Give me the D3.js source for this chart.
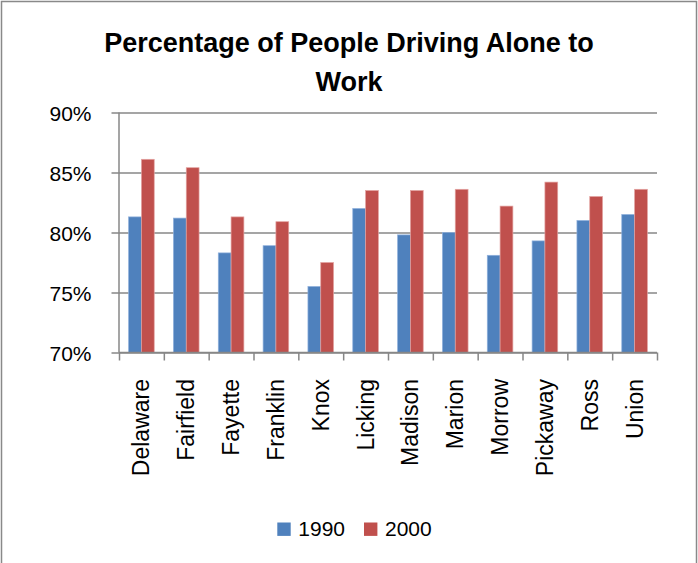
<!DOCTYPE html>
<html>
<head>
<meta charset="utf-8">
<script src="https://cdn.jsdelivr.net/npm/d3@7"></script>
<style>
  html, body { margin: 0; padding: 0; background: #fff; }
  svg { display: block; }
</style>
</head>
<body>
<script>
const titleLines = ["Percentage of People Driving Alone to", "Work"];
const categories = ["Delaware", "Fairfield", "Fayette", "Franklin", "Knox", "Licking", "Madison", "Marion", "Morrow", "Pickaway", "Ross", "Union"];
const seriesNames = ["1990", "2000"];
const values1990 = [81.3, 81.2, 78.3, 78.9, 75.5, 82.0, 79.8, 80.0, 78.1, 79.3, 81.0, 81.5];
const values2000 = [86.1, 85.4, 81.3, 80.9, 77.5, 83.5, 83.5, 83.6, 82.2, 84.2, 83.0, 83.6];
const yTicks = [70, 75, 80, 85, 90];
const colors = ["#4F81BD", "#C0504D"];
const strokes = ["#8fb0dc", "#e3a3a1"];

(function () {
const W = 698, H = 563;
const plotLeft = 119, plotRight = 657, plotTop = 112.5, plotBottom = 352.5;
const font = "'Liberation Sans', Arial, sans-serif";

const svg = d3.select("body").append("svg").attr("width", W).attr("height", H);

svg.append("rect").attr("x", 1.5).attr("y", 1.5).attr("width", 695).attr("height", 575)
  .attr("fill", "#fff").attr("stroke", "#898989").attr("stroke-width", 1.5);

// Title
const title = svg.append("text").attr("text-anchor", "middle")
  .attr("font-family", font).attr("font-weight", "bold").attr("font-size", 27).attr("fill", "#000");
titleLines.forEach((t, i) => {
  title.append("tspan").attr("x", 349).attr("y", 51.7 + i * 39.3).text(t);
});

const y = d3.scaleLinear().domain([70, 90]).range([plotBottom, plotTop]);
const x = d3.scaleBand().domain(categories).range([plotLeft, plotRight]).paddingInner(1.5 / 3.5).paddingOuter(0.75 / 3.5);
const xs = d3.scaleBand().domain(seriesNames).range([0, x.bandwidth()]);
const xb = d3.scaleLinear().domain([0, categories.length]).range([plotLeft, plotRight]);

// Gridlines
const grid = svg.append("g").attr("transform", `translate(${plotLeft},0)`)
  .call(d3.axisLeft(y).tickValues(yTicks).tickSize(-(plotRight - plotLeft)).tickFormat(""));
grid.select(".domain").remove();
grid.selectAll("line").attr("stroke", "#878787").attr("stroke-width", 1.5);

// Bars
const rows = categories.map((c, i) => ({ c, vals: [values1990[i], values2000[i]] }));
const g = svg.append("g");
rows.forEach(r => {
  r.vals.forEach((v, j) => {
    g.append("rect")
      .attr("x", x(r.c) + xs(seriesNames[j]))
      .attr("y", y(v))
      .attr("width", xs.bandwidth())
      .attr("height", y(70) - y(v))
      .attr("fill", colors[j])
      .attr("stroke", strokes[j])
      .attr("stroke-width", 0.7);
  });
});

// Y axis
const ya = svg.append("g").attr("transform", `translate(${plotLeft},0)`)
  .call(d3.axisLeft(y).tickValues(yTicks).tickSize(7.5).tickPadding(20).tickFormat(d => d + "%"));
ya.select(".domain").attr("stroke", "#878787").attr("stroke-width", 1.5).attr("d", `M0,${plotTop}V${plotBottom}`);
ya.selectAll("line").attr("stroke", "#878787").attr("stroke-width", 1.5);
ya.selectAll("text").attr("font-family", font).attr("font-size", 21).attr("fill", "#000").attr("dy", "0.36em");

// X axis
const xa = svg.append("g").attr("transform", `translate(0,${plotBottom})`)
  .call(d3.axisBottom(xb).tickValues(d3.range(categories.length + 1)).tickSize(8).tickFormat(""));
xa.select(".domain").attr("stroke", "#878787").attr("stroke-width", 1.5).attr("d", `M${plotLeft},0H${plotRight}`);
xa.selectAll("line").attr("stroke", "#878787").attr("stroke-width", 1.5);

svg.append("g").selectAll("text").data(categories).join("text")
  .attr("transform", d => `translate(${x(d) + x.bandwidth() / 2},379) rotate(-90)`)
  .attr("text-anchor", "end").attr("dy", "0.35em")
  .attr("font-family", font).attr("font-size", 23).attr("fill", "#000")
  .text(d => d);

// Legend
const legendX = [277.3, 364];
const lg = svg.append("g");
seriesNames.forEach((s, j) => {
  lg.append("rect").attr("x", legendX[j]).attr("y", 522.5).attr("width", 13.4).attr("height", 13.4).attr("fill", colors[j]);
  lg.append("text").attr("x", legendX[j] + 21).attr("y", 536)
    .attr("font-family", font).attr("font-size", 21).attr("fill", "#000").text(s);
});
})();
</script>
</body>
</html>
